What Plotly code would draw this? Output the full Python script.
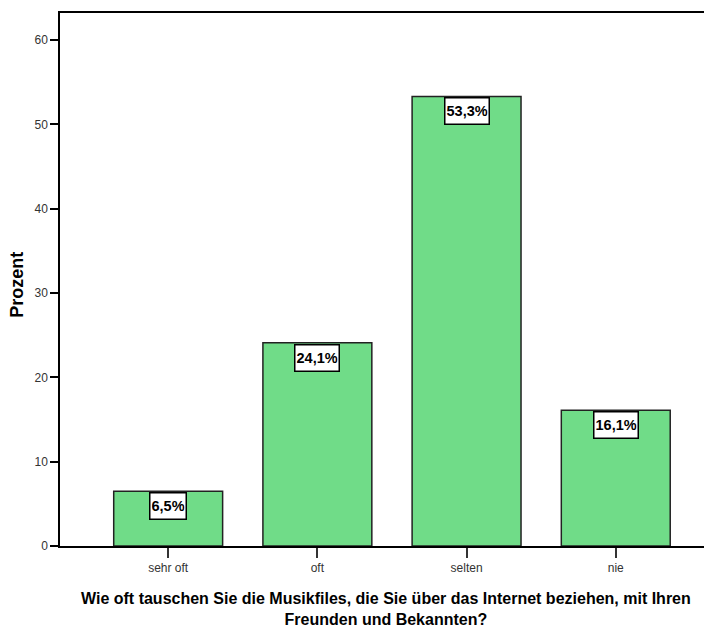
import plotly.graph_objects as go

categories = ["sehr oft", "oft", "selten", "nie"]
values = [6.5, 24.1, 53.3, 16.1]
labels = ["6,5%", "24,1%", "53,3%", "16,1%"]
y_ticks = [0, 10, 20, 30, 40, 50, 60]
x_title = "Wie oft tauschen Sie die Musikfiles, die Sie über das Internet beziehen, mit Ihren<br>Freunden und Bekannten?"
y_title = "Prozent"

fig = go.Figure()
fig.add_trace(go.Bar(
    x=categories, y=values, width=0.73,
    marker=dict(color="#70DC88", line=dict(color="#222222", width=1.5)),
    hoverinfo="skip",
))

for c, v, t in zip(categories, values, labels):
    fig.add_annotation(
        x=c, y=v, text="<b>" + t + "</b>", showarrow=False, yanchor="top", yshift=-1,
        font=dict(family="Liberation Sans, Arial", size=14.5, color="black"),
        bgcolor="white", bordercolor="black", borderwidth=1.5, borderpad=1, height=23,
    )

fig.add_annotation(
    xref="paper", yref="paper", x=0.5, y=-0.078, xanchor="center", yanchor="top",
    text="<b>" + x_title + "</b>", showarrow=False,
    font=dict(family="Liberation Sans, Arial", size=16, color="black"),
)
fig.add_annotation(
    xref="paper", yref="paper", x=-0.066, y=0.49, xanchor="center", yanchor="middle",
    text="<b>" + y_title + "</b>", showarrow=False, textangle=-90,
    font=dict(family="Liberation Sans, Arial", size=18, color="black"),
)

# page body has an 8px default margin, so the figure is 8px smaller
fig.update_layout(
    width=704, height=620,
    margin=dict(l=52, r=0, t=5, b=82, autoexpand=False),
    plot_bgcolor="white", paper_bgcolor="white",
    showlegend=False,
    font=dict(family="Liberation Sans, Arial", color="#222222"),
)
fig.update_xaxes(
    range=[-0.725, 3.645], showgrid=False, zeroline=False, automargin=False,
    showline=True, linecolor="black", linewidth=1.5, mirror=True,
    ticks="outside", ticklen=10, tickwidth=1.5, tickcolor="#333333",
    tickfont=dict(size=12, color="#333333"),
)
fig.update_yaxes(
    range=[0, 63.2], tickvals=y_ticks, showgrid=False, zeroline=False, automargin=False,
    showline=True, linecolor="black", linewidth=1.5,
    ticks="outside", ticklen=8, tickwidth=1.5, tickcolor="black",
    tickfont=dict(size=12, color="#333333"),
)

fig.write_html("out.html")
